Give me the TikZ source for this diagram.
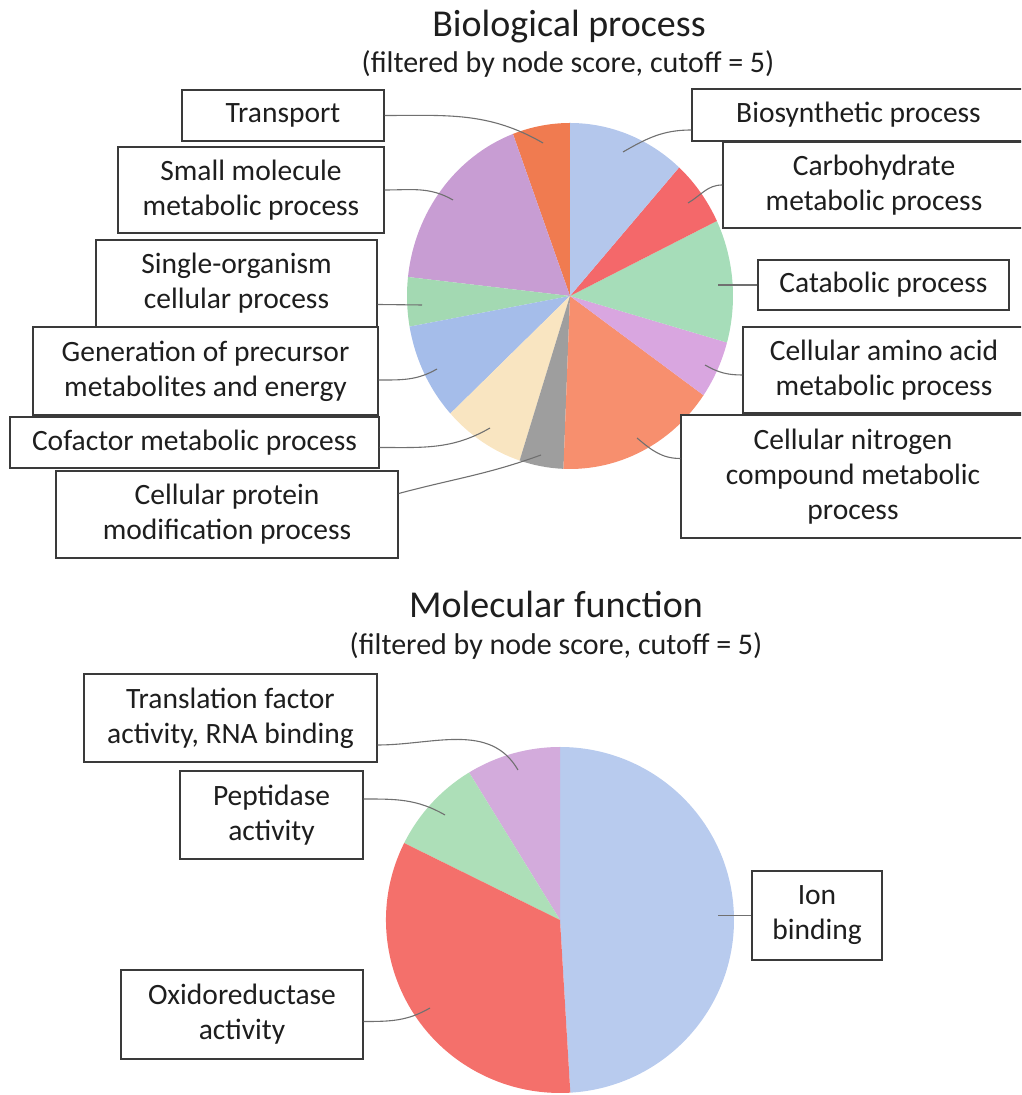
\documentclass[tikz,border=0pt]{standalone}
\usepackage{fontspec}
\setmainfont{Carlito}
\usetikzlibrary{positioning, calc}
\definecolor{bioblue}{HTML}{B4C7EC}
\definecolor{carbred}{HTML}{F4686A}
\definecolor{catagreen}{HTML}{A6DDB9}
\definecolor{aminopink}{HTML}{D9A6E0}
\definecolor{nitrosalmon}{HTML}{F78F6E}
\definecolor{protgray}{HTML}{9E9E9E}
\definecolor{cofcream}{HTML}{F9E5C1}
\definecolor{genblue}{HTML}{A5BDEA}
\definecolor{singlegreen}{HTML}{A3D9B2}
\definecolor{smallpurple}{HTML}{C89DD3}
\definecolor{transorange}{HTML}{F07B50}
\definecolor{ionblue}{HTML}{B8CBEE}
\definecolor{oxired}{HTML}{F4706B}
\definecolor{peptgreen}{HTML}{ADDFB8}
\definecolor{tfpurple}{HTML}{D3ABDC}
\definecolor{boxgray}{HTML}{3A3A3A}
\definecolor{leadgray}{HTML}{707070}
\definecolor{textgray}{HTML}{1E1E1E}

\tikzset{
	lbl/.style={draw=boxgray, line width=1.4pt, fill=white, align=center, inner sep=0pt, text=textgray, font=\fontsize{29.5}{35}\selectfont},
	leader/.style={draw=leadgray, line width=1.1pt},
	charttitle/.style={anchor=base, text=textgray, font=\fontsize{38}{44}\selectfont},
	chartsub/.style={anchor=base, text=textgray, font=\fontsize{30}{36}\selectfont}
}

\begin{document}
\begin{tikzpicture}[x=1pt, y=1pt]
	\useasboundingbox (0,0) rectangle (1021,1095);
	\clip (0,0) rectangle (1021,1095);

	%--------------------------------------------------------------------
	\node(bptitle) [charttitle] at (569,1058) {Biological process};
	\node(bpsub) [chartsub] at (568,1022) {(filtered by node score, cutoff = 5)};

	\coordinate (bp) at (570,799);
	\foreach \a/\b/\c in {90/110.5/transorange, 110.5/173.7/smallpurple, 173.7/190.2/singlegreen,
		190.2/222.8/genblue, 222.8/252/cofcream, 252/267.7/protgray, 267.7/325/nitrosalmon,
		325/344.4/aminopink, 344.4/385.7/catagreen, 385.7/408/carbred, 408/450/bioblue}
		\fill[\c] (bp) -- ++(\a:163pt and 173pt) arc[start angle=\a, end angle=\b, x radius=163pt, y radius=173pt] -- cycle;

	\node(transport) [lbl, minimum width=202, minimum height=51] at (283,979.5) {Transport};
	\node(small) [lbl, minimum width=266, minimum height=86] at (251,905) {Small molecule\\metabolic process};
	\node(single) [lbl, minimum width=281, minimum height=87] at (236.5,811.5) {Single-organism\\cellular process};
	\node(generation) [lbl, minimum width=345, minimum height=88] at (205.5,724) {Generation of precursor\\metabolites and energy};
	\node(cofactor) [lbl, minimum width=369, minimum height=51] at (194.5,652.5) {Cofactor metabolic process};
	\node(protein) [lbl, minimum width=342, minimum height=87] at (227,580.5) {Cellular protein\\modification process};

	\node(biosynth) [lbl, minimum width=333, minimum height=52] at (858.5,980) {Biosynthetic process};
	\node(carb) [lbl, minimum width=302, minimum height=86] at (874,910) {Carbohydrate\\metabolic process};
	\node(catabolic) [lbl, minimum width=251, minimum height=50] at (883.5,810) {Catabolic process};
	\node(amino) [lbl, minimum width=282, minimum height=86] at (884,725) {Cellular amino acid\\metabolic process};
	\node(nitrogen) [lbl, minimum width=344, minimum height=123] at (853,618.5) {Cellular nitrogen\\compound metabolic\\process};

	\coordinate (transport-pt) at (543,952);
	\coordinate (small-pt) at (453,895);
	\coordinate (single-pt) at (422,790);
	\coordinate (generation-pt) at (437,726);
	\coordinate (cofactor-pt) at (490,667);
	\coordinate (protein-pt) at (541,640);
	\coordinate (biosynth-pt) at (623,943);
	\coordinate (carb-pt) at (688,892);
	\coordinate (catabolic-pt) at (718,810);
	\coordinate (amino-pt) at (705,730);
	\coordinate (nitrogen-pt) at (637,657);

	\draw[leader] (transport.east) to[out=0, in=150] (transport-pt);
	\draw[leader] (small.east) to[out=0, in=150] (small-pt);
	\draw[leader] ([yshift=-21pt]single.east) -- (single-pt);
	\draw[leader] ([yshift=-9pt]generation.east) to[out=0, in=210] (generation-pt);
	\draw[leader] ([yshift=-5pt]cofactor.east) to[out=0, in=210] (cofactor-pt);
	\draw[leader] ([yshift=21pt]protein.east) to[out=15, in=200] (protein-pt);
	\draw[leader] ([yshift=-15pt]biosynth.west) to[out=180, in=30] (biosynth-pt);
	\draw[leader] (carb.west) to[out=180, in=30] (carb-pt);
	\draw[leader] (catabolic.west) -- (catabolic-pt);
	\draw[leader] ([yshift=-5pt]amino.west) to[out=180, in=-30] (amino-pt);
	\draw[leader] ([yshift=18pt]nitrogen.west) to[out=180, in=-40] (nitrogen-pt);

	%--------------------------------------------------------------------
	\node(mftitle) [charttitle] at (556,477) {Molecular function};
	\node(mfsub) [chartsub] at (556,440) {(filtered by node score, cutoff = 5)};

	\coordinate (mf) at (560,175);
	\foreach \a/\b/\c in {-86.6/90/ionblue, 90/121.5/tfpurple, 121.5/153.6/peptgreen, 153.6/273.4/oxired}
		\fill[\c] (mf) -- ++(\a:174pt and 173pt) arc[start angle=\a, end angle=\b, x radius=174pt, y radius=173pt] -- cycle;

	\node(translation) [lbl, minimum width=293, minimum height=88] at (230.5,377) {Translation factor\\activity, RNA binding};
	\node(peptidase) [lbl, minimum width=183, minimum height=88] at (271.5,280) {Peptidase\\activity};
	\node(oxido) [lbl, minimum width=242, minimum height=89] at (242,80.5) {Oxidoreductase\\activity};
	\node(ion) [lbl, minimum width=130, minimum height=89] at (817,179.5) {Ion\\binding};

	\coordinate (translation-pt) at (518,325);
	\coordinate (peptidase-pt) at (445,280);
	\coordinate (oxido-pt) at (430,87);
	\coordinate (ion-pt) at (718,179.5);

	\draw[leader] ([yshift=-27pt]translation.east) to[out=0, in=120] (translation-pt);
	\draw[leader] ([yshift=16pt]peptidase.east) to[out=0, in=150] (peptidase-pt);
	\draw[leader] ([yshift=-7pt]oxido.east) to[out=0, in=210] (oxido-pt);
	\draw[leader] (ion.west) -- (ion-pt);
\end{tikzpicture}
\end{document}
